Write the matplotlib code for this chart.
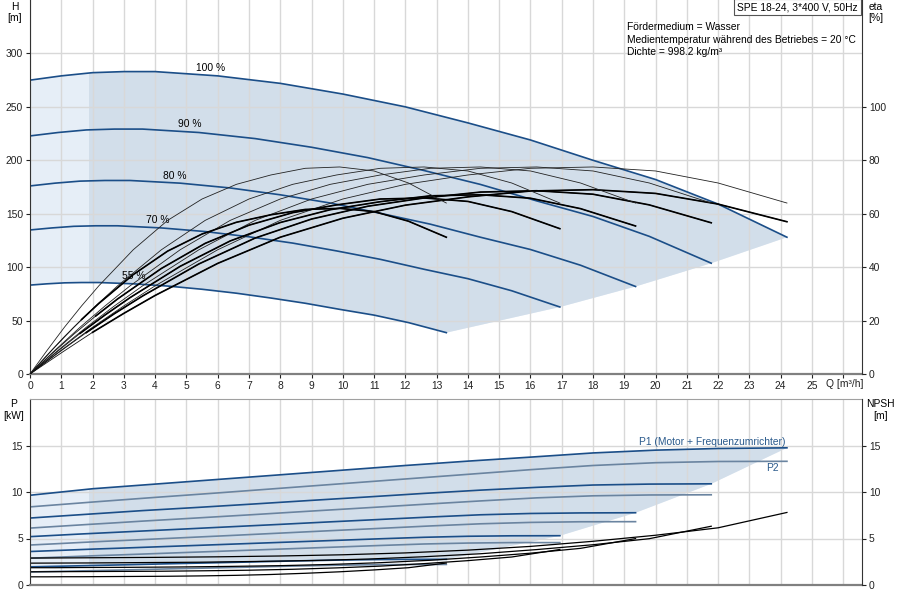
import numpy as np
import matplotlib
matplotlib.use('Agg')
import matplotlib.pyplot as plt
from matplotlib.patches import Polygon, Rectangle

plt.rcParams['font.family'] = ['Liberation Sans', 'DejaVu Sans']
plt.rcParams['font.size'] = 7.4
fs = 7.4

# Förderstrom Q [m3/h] je Drehzahl
q_100 = [0, 1, 2, 3, 4, 6, 8, 10, 12, 14, 16, 18, 20, 22, 24.2]
q_90 = [0, 0.9, 1.8, 2.7, 3.6, 5.4, 7.2, 9.0, 10.8, 12.6, 14.4, 16.2, 18.0, 19.8, 21.78]
q_80 = [0, 0.8, 1.6, 2.4, 3.2, 4.8, 6.4, 8.0, 9.6, 11.2, 12.8, 14.4, 16.0, 17.6, 19.36]
q_70 = [0, 0.7, 1.4, 2.1, 2.8, 4.2, 5.6, 7.0, 8.4, 9.8, 11.2, 12.6, 14.0, 15.4, 16.94]
q_55 = [0, 0.55, 1.1, 1.65, 2.2, 3.3, 4.4, 5.5, 6.6, 7.7, 8.8, 9.9, 11.0, 12.1, 13.31]

# Förderhöhe H [m]
h_100 = [275, 279, 282, 283, 283, 279, 272, 262, 250, 235, 219, 200, 182, 159, 128]
h_90 = [222.8, 226.0, 228.4, 229.2, 229.2, 226.0, 220.3, 212.2, 202.5, 190.4, 177.4, 162.0, 147.4, 128.8, 103.7]
h_80 = [176.0, 178.6, 180.5, 181.1, 181.1, 178.6, 174.1, 167.7, 160.0, 150.4, 140.2, 128.0, 116.5, 101.8, 81.9]
h_70 = [134.8, 136.7, 138.2, 138.7, 138.7, 136.7, 133.3, 128.4, 122.5, 115.2, 107.3, 98.0, 89.2, 77.9, 62.7]
h_55 = [83.2, 84.4, 85.3, 85.6, 85.6, 84.4, 82.3, 79.3, 75.6, 71.1, 66.2, 60.5, 55.1, 48.1, 38.7]

# Wirkungsgrad eta [%]: Pumpe (gleich für alle Drehzahlen) und gesamt
eta_pump = [0, 8.9, 17.5, 25.5, 33, 46.5, 57.5, 65.5, 71, 74.5, 77, 77.5, 76, 71.5, 64]
eta_100 = [0, 7.9, 15.6, 22.7, 29.4, 41.4, 51.2, 58.3, 63.2, 66.3, 68.5, 69.0, 67.6, 63.6, 57.0]
eta_90 = [0, 7.9, 15.5, 22.6, 29.2, 41.2, 50.9, 58.0, 62.8, 65.9, 68.1, 68.6, 67.3, 63.3, 56.6]
eta_80 = [0, 7.7, 15.2, 22.1, 28.6, 40.3, 49.8, 56.7, 61.5, 64.5, 66.7, 67.1, 65.8, 61.9, 55.4]
eta_70 = [0, 7.6, 14.9, 21.7, 28.1, 39.5, 48.9, 55.7, 60.4, 63.3, 65.5, 65.9, 64.6, 60.8, 54.4]
eta_55 = [0, 7.1, 14.0, 20.4, 26.4, 37.2, 46.0, 52.4, 56.8, 59.6, 61.6, 62.0, 60.8, 57.2, 51.2]

# Leistung P1 (Motor + FU) und P2 [kW]
p1_100 = [9.65, 10.0, 10.35, 10.6, 10.85, 11.35, 11.85, 12.35, 12.85, 13.32, 13.75, 14.2, 14.5, 14.68, 14.75]
p1_90 = [7.2, 7.4, 7.6, 7.8, 8.0, 8.35, 8.72, 9.1, 9.47, 9.85, 10.2, 10.5, 10.75, 10.85, 10.88]
p1_80 = [5.2, 5.34, 5.48, 5.61, 5.74, 6.0, 6.26, 6.52, 6.79, 7.05, 7.31, 7.55, 7.69, 7.75, 7.77]
p1_70 = [3.6, 3.69, 3.78, 3.87, 3.95, 4.12, 4.29, 4.46, 4.63, 4.8, 4.97, 5.13, 5.24, 5.29, 5.3]
p1_55 = [1.95, 1.99, 2.03, 2.07, 2.11, 2.19, 2.28, 2.36, 2.44, 2.53, 2.61, 2.68, 2.73, 2.75, 2.76]
p2_100 = [8.4, 8.66, 8.92, 9.17, 9.42, 9.9, 10.4, 10.9, 11.4, 11.9, 12.4, 12.85, 13.15, 13.28, 13.3]
p2_90 = [6.12, 6.31, 6.50, 6.68, 6.87, 7.22, 7.58, 7.95, 8.31, 8.68, 9.04, 9.37, 9.59, 9.68, 9.70]
p2_80 = [4.30, 4.43, 4.57, 4.70, 4.82, 5.07, 5.32, 5.58, 5.84, 6.09, 6.35, 6.58, 6.73, 6.80, 6.81]
p2_70 = [2.88, 2.97, 3.06, 3.15, 3.23, 3.40, 3.57, 3.74, 3.91, 4.08, 4.25, 4.41, 4.51, 4.56, 4.56]
p2_55 = [1.40, 1.44, 1.48, 1.52, 1.56, 1.64, 1.73, 1.81, 1.89, 1.98, 2.06, 2.13, 2.18, 2.20, 2.21]

# NPSH [m]
npsh_100 = [2.9, 2.91, 2.93, 2.95, 2.97, 3.03, 3.12, 3.25, 3.45, 3.75, 4.15, 4.7, 5.35, 6.15, 7.8]
npsh_90 = [2.35, 2.36, 2.37, 2.39, 2.41, 2.45, 2.53, 2.63, 2.79, 3.04, 3.36, 3.81, 4.33, 4.98, 6.32]
npsh_80 = [1.86, 1.86, 1.88, 1.89, 1.90, 1.94, 2.00, 2.08, 2.21, 2.40, 2.66, 3.01, 3.42, 3.94, 4.99]
npsh_70 = [1.42, 1.43, 1.44, 1.45, 1.46, 1.48, 1.53, 1.59, 1.69, 1.84, 2.03, 2.30, 2.62, 3.01, 3.82]
npsh_55 = [0.88, 0.88, 0.89, 0.89, 0.90, 0.92, 0.94, 0.98, 1.04, 1.13, 1.26, 1.42, 1.62, 1.86, 2.36]

speeds = ['100 %', '90 %', '80 %', '70 %', '55 %']
Q = [q_100, q_90, q_80, q_70, q_55]
H = [h_100, h_90, h_80, h_70, h_55]
ETA = [eta_100, eta_90, eta_80, eta_70, eta_55]
P1 = [p1_100, p1_90, p1_80, p1_70, p1_55]
P2 = [p2_100, p2_90, p2_80, p2_70, p2_55]
NPSH = [npsh_100, npsh_90, npsh_80, npsh_70, npsh_55]

q_min = 1.9
blue = '#1b4e88'
light = '#e6eef7'
dark = '#d2deea'
gridc = '#d8d8d8'

fig = plt.figure(figsize=(9, 6), dpi=100)
ax = fig.add_axes([30/900, 1-374/600, 832/900, 374/600])
ax2 = ax.twinx()
bx = fig.add_axes([30/900, 15/600, 832/900, 186/600])
bx2 = bx.twinx()


def region(a, ys):
    # Fläche zwischen 100 %-Kurve, Endpunkten und 55 %-Kurve
    xs = list(Q[0]) + [q[-1] for q in Q[1:4]] + list(Q[4][::-1])
    yy = list(ys[0]) + [y[-1] for y in ys[1:4]] + list(ys[4][::-1])
    pts = np.column_stack([xs, yy])
    a.add_patch(Polygon(pts, closed=True, fc=light, ec='none', zorder=1))
    pd = Polygon(pts, closed=True, fc=dark, ec='none', zorder=1)
    a.add_patch(pd)
    pd.set_clip_path(Rectangle((q_min, -100), 100, 1000, transform=a.transData))


def style(a, a2, ymax, yt, yt2, ymax2):
    a.set_xlim(0, 26.6)
    a.set_ylim(0, ymax)
    a.set_xticks(range(27))
    a.set_yticks(yt)
    a.grid(True, color=gridc, lw=1)
    a.set_axisbelow('line')
    a.tick_params(direction='out', length=3, width=0.8, pad=2, labelsize=fs, colors='#222222')
    a2.set_ylim(0, ymax2)
    a2.set_yticks(yt2)
    a2.tick_params(direction='out', length=3, width=0.8, pad=2, labelsize=fs, colors='#222222')
    a.spines['right'].set_visible(False)
    a.spines['top'].set_visible(False)
    a.spines['left'].set_color('#333333')
    a.spines['bottom'].set_color('#808080')
    a.spines['bottom'].set_linewidth(1.6)
    for s in ['left', 'top', 'bottom']:
        a2.spines[s].set_visible(False)
    a2.spines['right'].set_color('#333333')


# --- oberes Diagramm: H und eta ---
style(ax, ax2, 350, range(0, 301, 50), range(0, 101, 20), 140)
ax.set_xticklabels([str(i) for i in range(26)] + [''])
region(ax, H)
for q, h in zip(Q, H):
    ax.plot(q, h, color=blue, lw=1.2, zorder=2)
for q, e in zip(Q, ETA):
    qa = np.array(q)
    ea = np.array(e)
    m = qa >= q_min - 0.35
    ax2.plot(qa, eta_pump, color='#222222', lw=0.6)
    ax2.plot(qa, ea, color='#111111', lw=0.6)
    ax2.plot(qa[m], ea[m], color='black', lw=1.2)

ax.text(5.76, 286, '100 %', ha='center', va='center', fontsize=fs)
ax.text(5.12, 234, '90 %', ha='center', va='center', fontsize=fs)
ax.text(4.64, 185, '80 %', ha='center', va='center', fontsize=fs)
ax.text(4.09, 144, '70 %', ha='center', va='center', fontsize=fs)
ax.text(3.33, 92, '55 %', ha='center', va='center', fontsize=fs)

ax.text(25.45, -10/374, 'Q [m³/h]', transform=ax.get_xaxis_transform(),
        ha='left', va='center', fontsize=fs, color='#222222')
ax.text(0.9225, 0.981, 'SPE 18-24, 3*400 V, 50Hz', transform=ax.transAxes,
        ha='center', va='center', fontsize=fs,
        bbox=dict(boxstyle='square,pad=0.3', fc='white', ec='#555555', lw=0.8), zorder=5)
ax.text(0.7175, 0.928, 'Fördermedium = Wasser', transform=ax.transAxes, va='center', fontsize=fs)
ax.text(0.7175, 0.894, 'Medientemperatur während des Betriebes = 20 °C', transform=ax.transAxes,
        va='center', fontsize=fs)
ax.text(0.7175, 0.861, 'Dichte = 998.2 kg/m³', transform=ax.transAxes, va='center', fontsize=fs)

# --- unteres Diagramm: P und NPSH ---
style(bx, bx2, 20, [0, 5, 10, 15], [0, 5, 10, 15], 20)
bx.spines['top'].set_visible(True)
bx.spines['top'].set_color('#a0a0a0')
bx.tick_params(axis='x', length=0, labelbottom=False)
region(bx, P1)
for q, p in zip(Q, P2):
    bx.plot(q, p, color='#6a84a0', lw=1.2, zorder=2)
for q, p in zip(Q, P1):
    bx.plot(q, p, color=blue, lw=1.2, zorder=2)
for q, n in zip(Q, NPSH):
    bx.plot(q, n, color='black', lw=0.9, zorder=2)

bx.text(24.14, 15.4, 'P1 (Motor + Frequenzumrichter)', ha='right', va='center',
        fontsize=fs, color='#2a5a8c')
bx.text(23.95, 12.6, 'P2', ha='right', va='center', fontsize=fs, color='#2a5a8c')

# Achsbeschriftungen
fig.text(15/900, 1-7/600, 'H', ha='center', va='center', fontsize=fs)
fig.text(15/900, 1-18/600, '[m]', ha='center', va='center', fontsize=fs)
fig.text(876/900, 1-7/600, 'eta', ha='center', va='center', fontsize=fs)
fig.text(876/900, 1-18/600, '[%]', ha='center', va='center', fontsize=fs)
fig.text(14/900, 1-404/600, 'P', ha='center', va='center', fontsize=fs)
fig.text(14/900, 1-416/600, '[kW]', ha='center', va='center', fontsize=fs)
fig.text(880/900, 1-404/600, 'NPSH', ha='center', va='center', fontsize=fs)
fig.text(880/900, 1-416/600, '[m]', ha='center', va='center', fontsize=fs)

fig.savefig('out.png', dpi=100)
